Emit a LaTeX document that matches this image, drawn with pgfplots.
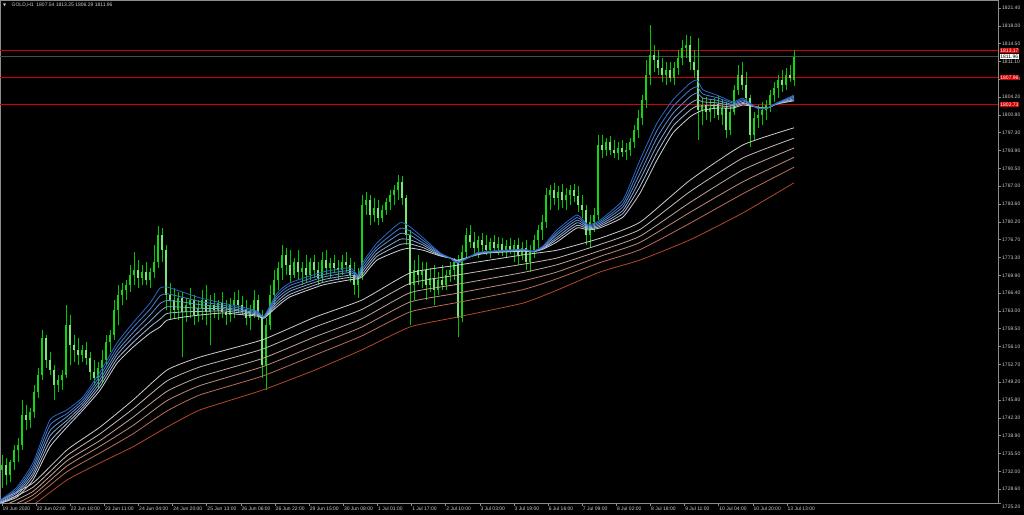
\documentclass[border=0pt]{standalone}
\usepackage{pgfplots}
\pgfplotsset{compat=1.18}
\usepackage{pgfplotstable}
\usetikzlibrary{backgrounds}
\usepackage{fontspec}
\setmainfont{Liberation Sans}
\newfontfamily\dejavu{DejaVu Sans}
\definecolor{labc}{RGB}{205,205,205}
\definecolor{axc}{RGB}{140,140,140}
\definecolor{wickc}{RGB}{0,200,0}
\definecolor{bullc}{RGB}{20,215,20}
\definecolor{bearc}{RGB}{120,230,120}
\definecolor{s1}{RGB}{40,105,200}
\definecolor{s2}{RGB}{70,125,205}
\definecolor{s3}{RGB}{100,145,210}
\definecolor{s4}{RGB}{135,165,212}
\definecolor{s5}{RGB}{170,185,215}
\definecolor{s6}{RGB}{205,208,215}
\definecolor{l1}{RGB}{205,205,205}
\definecolor{l2}{RGB}{200,185,180}
\definecolor{l3}{RGB}{195,165,155}
\definecolor{l4}{RGB}{190,140,120}
\definecolor{l5}{RGB}{185,110,85}
\definecolor{l6}{RGB}{180,72,40}
\definecolor{lvl}{RGB}{210,0,0}

\pgfplotstableread{
x o h l c
2 1732.3 1735.2 1728.9 1733.3
6 1733.3 1734.6 1729.4 1731.4
10 1731.4 1734.3 1730.0 1733.9
14 1733.9 1737.1 1732.3 1736.2
18 1736.2 1738.5 1733.9 1737.1
22 1737.1 1745.8 1736.2 1742.9
26 1742.9 1744.9 1740.0 1742.0
30 1742.0 1744.3 1740.4 1743.5
34 1743.5 1748.7 1742.4 1747.4
38 1747.4 1752.0 1746.2 1750.6
42 1750.6 1759.3 1749.7 1757.8
46 1757.8 1758.4 1752.0 1753.5
50 1753.5 1755.1 1750.6 1751.6
54 1751.6 1752.6 1745.8 1748.7
58 1748.7 1750.6 1747.4 1749.7
62 1749.7 1751.6 1747.7 1750.6
66 1750.6 1764.1 1750.1 1760.3
70 1760.3 1762.2 1752.6 1756.4
74 1756.4 1758.4 1753.2 1755.5
78 1755.5 1757.8 1752.6 1754.5
82 1754.5 1756.4 1753.2 1755.5
86 1755.5 1757.0 1752.6 1753.9
90 1753.9 1755.1 1749.7 1751.2
94 1751.2 1753.5 1748.7 1750.1
98 1750.1 1753.2 1748.1 1752.0
102 1752.0 1755.5 1749.3 1753.5
106 1753.5 1758.4 1752.6 1757.0
110 1757.0 1759.3 1755.1 1758.4
114 1758.4 1765.1 1757.4 1763.2
118 1763.2 1768.0 1760.3 1766.1
122 1766.1 1768.4 1764.1 1767.0
126 1767.0 1769.0 1765.1 1768.0
130 1768.0 1771.8 1766.6 1769.9
134 1769.9 1774.4 1768.0 1770.9
138 1770.9 1772.8 1767.4 1769.4
142 1769.4 1771.8 1768.0 1770.5
146 1770.5 1772.4 1768.0 1769.0
150 1769.0 1771.3 1767.4 1770.5
154 1770.5 1775.7 1769.4 1772.4
158 1772.4 1779.4 1771.3 1777.6
162 1777.6 1779.0 1772.4 1774.7
166 1774.7 1775.7 1763.2 1766.1
170 1766.1 1768.4 1761.2 1765.1
174 1765.1 1767.4 1761.6 1763.2
178 1763.2 1766.6 1761.2 1765.5
182 1765.5 1766.6 1754.1 1762.8
186 1762.8 1765.5 1760.9 1764.1
190 1764.1 1767.4 1761.6 1765.1
194 1765.1 1766.1 1760.3 1762.2
198 1762.2 1765.1 1760.9 1763.6
202 1763.6 1767.0 1761.2 1765.1
206 1765.1 1768.0 1760.3 1762.8
210 1762.8 1766.1 1756.4 1764.1
214 1764.1 1766.4 1761.6 1763.2
218 1763.2 1765.1 1761.2 1764.5
222 1764.5 1766.6 1761.6 1762.8
226 1762.8 1765.1 1760.3 1762.2
230 1762.2 1765.5 1760.9 1764.1
234 1764.1 1766.6 1761.6 1765.1
238 1765.1 1767.0 1762.8 1764.1
242 1764.1 1765.9 1762.2 1763.2
246 1763.2 1765.1 1760.3 1761.6
250 1761.6 1764.1 1759.3 1762.8
254 1762.8 1767.0 1761.6 1765.1
258 1765.1 1766.1 1761.2 1762.8
262 1762.2 1763.2 1750.1 1752.6
266 1752.6 1761.6 1747.7 1760.3
270 1760.3 1768.0 1759.3 1766.1
274 1766.1 1770.9 1764.1 1769.0
278 1769.0 1772.4 1767.0 1771.3
282 1771.3 1775.7 1769.0 1773.8
286 1773.8 1775.1 1769.9 1771.8
290 1771.8 1774.7 1768.6 1769.9
294 1769.9 1773.2 1769.4 1772.4
298 1772.4 1774.7 1769.0 1770.5
302 1770.5 1772.4 1768.0 1771.3
306 1771.3 1773.8 1768.6 1769.9
310 1769.9 1773.2 1769.0 1772.4
314 1772.4 1773.8 1769.4 1770.9
318 1770.9 1772.4 1768.0 1769.4
322 1769.4 1774.4 1768.6 1772.8
326 1772.8 1774.7 1769.9 1771.3
330 1771.3 1773.2 1769.4 1772.2
334 1772.2 1773.8 1770.5 1771.3
338 1771.3 1772.8 1769.0 1770.9
342 1770.9 1773.8 1769.9 1772.4
346 1772.4 1774.4 1770.5 1771.8
350 1771.8 1773.2 1768.6 1769.9
354 1769.9 1772.4 1766.1 1768.0
358 1768.0 1771.3 1765.5 1769.9
362 1769.9 1785.3 1769.0 1783.4
366 1783.4 1785.9 1781.5 1784.4
370 1784.4 1785.3 1779.6 1781.5
374 1781.5 1784.8 1780.1 1782.8
378 1782.8 1784.4 1779.6 1780.9
382 1780.9 1783.4 1780.1 1782.5
386 1782.5 1784.8 1781.5 1784.0
390 1784.0 1786.3 1782.5 1785.3
394 1785.3 1787.3 1783.4 1786.3
398 1786.3 1789.2 1784.4 1787.8
402 1787.8 1789.0 1783.4 1784.8
406 1784.8 1785.3 1775.7 1777.6
410 1777.6 1778.6 1760.3 1768.0
414 1768.0 1772.8 1765.1 1770.9
418 1770.9 1773.8 1768.0 1769.9
422 1769.9 1772.4 1767.4 1770.9
426 1770.9 1772.4 1765.1 1768.0
430 1768.0 1771.3 1766.6 1769.4
434 1769.4 1771.8 1764.1 1767.0
438 1767.0 1770.5 1766.1 1769.0
442 1769.0 1771.8 1767.0 1768.0
446 1768.0 1770.9 1767.0 1769.9
450 1769.9 1772.4 1768.6 1770.9
454 1770.9 1773.2 1769.0 1772.4
458 1772.4 1773.8 1758.0 1761.6
462 1761.6 1775.7 1760.9 1774.4
466 1774.4 1779.0 1773.2 1777.6
470 1777.6 1779.6 1775.1 1776.3
474 1776.3 1778.2 1773.8 1775.1
478 1775.1 1777.4 1773.2 1776.7
482 1776.7 1778.0 1774.4 1775.7
486 1775.7 1777.6 1773.8 1774.7
490 1774.7 1777.0 1773.2 1776.3
494 1776.3 1777.6 1774.4 1775.1
498 1775.1 1777.2 1773.8 1775.9
502 1775.9 1777.0 1773.6 1774.7
506 1774.7 1776.7 1773.2 1775.5
510 1775.5 1777.0 1774.0 1774.7
514 1774.7 1776.7 1772.4 1775.7
518 1775.7 1777.0 1771.8 1773.8
522 1773.8 1776.3 1772.8 1775.1
526 1775.1 1776.7 1770.9 1772.4
530 1772.4 1775.7 1770.5 1774.7
534 1774.7 1777.6 1773.2 1776.7
538 1776.7 1779.6 1775.1 1778.6
542 1778.6 1781.5 1776.7 1780.1
546 1780.1 1786.7 1779.0 1785.3
550 1785.3 1787.3 1782.5 1786.3
554 1786.3 1787.7 1783.4 1784.8
558 1784.8 1787.1 1782.5 1785.9
562 1785.9 1787.5 1782.8 1784.4
566 1784.4 1786.7 1782.5 1785.3
570 1785.3 1787.3 1783.4 1786.3
574 1786.3 1787.5 1784.0 1785.2
578 1785.2 1787.1 1782.1 1783.4
582 1783.4 1785.3 1780.9 1782.5
586 1782.5 1783.4 1775.7 1777.6
590 1777.6 1781.5 1775.1 1780.1
594 1780.1 1782.8 1778.2 1781.5
598 1781.5 1796.9 1780.5 1795.0
602 1795.0 1796.9 1792.5 1794.0
606 1794.0 1796.3 1792.9 1795.6
610 1795.6 1796.7 1793.1 1794.0
614 1794.0 1796.0 1792.5 1793.4
618 1793.4 1795.6 1792.1 1794.4
622 1794.4 1796.0 1792.7 1793.6
626 1793.6 1795.4 1792.1 1794.0
630 1794.0 1796.3 1792.9 1795.6
634 1795.6 1798.8 1794.4 1797.9
638 1797.9 1801.7 1796.3 1800.2
642 1800.2 1804.6 1798.8 1803.7
646 1803.7 1811.4 1802.1 1808.5
650 1808.5 1818.1 1806.6 1812.3
654 1812.3 1814.3 1809.1 1811.4
658 1811.4 1813.3 1808.5 1809.8
662 1809.8 1811.8 1807.1 1808.5
666 1808.5 1811.0 1806.6 1809.4
670 1809.4 1811.0 1807.1 1807.9
674 1807.9 1811.0 1806.6 1809.8
678 1809.8 1813.3 1808.5 1811.8
682 1811.8 1815.2 1810.4 1813.7
686 1813.7 1816.2 1811.8 1814.3
690 1814.3 1816.0 1809.4 1811.0
694 1811.0 1813.3 1807.9 1809.4
698 1809.4 1815.6 1795.9 1801.7
702 1801.7 1804.0 1798.8 1802.7
706 1802.7 1804.2 1799.8 1801.3
710 1801.3 1803.7 1799.4 1802.1
714 1802.1 1804.0 1800.2 1802.9
718 1802.9 1804.4 1799.8 1800.8
722 1800.8 1803.7 1798.8 1802.1
726 1802.1 1803.3 1796.3 1797.9
730 1797.9 1802.7 1796.9 1801.3
734 1801.3 1806.6 1800.8 1805.6
738 1805.6 1810.4 1804.6 1808.5
742 1808.5 1811.0 1805.6 1806.6
746 1806.6 1809.1 1802.7 1804.1
750 1804.1 1804.6 1794.6 1796.9
754 1796.9 1801.3 1795.9 1800.2
758 1800.2 1802.7 1798.3 1800.8
762 1800.8 1803.3 1798.8 1801.7
766 1801.7 1803.7 1799.8 1802.7
770 1802.7 1805.6 1801.3 1804.6
774 1804.6 1807.1 1803.3 1806.0
778 1806.0 1808.5 1804.0 1807.5
782 1807.5 1809.4 1805.2 1806.6
786 1806.6 1809.8 1805.6 1808.5
790 1808.5 1810.4 1807.1 1807.9
794 1807.54 1813.25 1806.29 1811.96
}\candles

\pgfplotstableread{
x s1 s2 s3 s4 s5 s6
0 1726.5 1726.4 1726.3 1726.1 1726.0 1725.9
17 1729.0 1728.6 1728.2 1727.9 1727.5 1727.1
33 1733.7 1733.0 1732.4 1731.7 1731.1 1730.4
50 1742.0 1741.0 1739.9 1738.9 1737.8 1736.8
67 1743.9 1743.2 1742.6 1741.9 1741.3 1740.6
83 1746.4 1745.9 1745.4 1744.9 1744.4 1743.9
100 1751.2 1750.5 1749.8 1749.1 1748.4 1747.7
117 1756.8 1756.0 1755.2 1754.5 1753.7 1752.9
133 1760.7 1759.8 1758.8 1757.9 1756.9 1756.0
150 1764.5 1763.3 1762.2 1761.0 1759.9 1758.7
160 1767.4 1765.9 1764.4 1762.9 1761.4 1759.9
167 1767.6 1766.3 1765.0 1763.8 1762.5 1761.2
183 1766.6 1765.6 1764.7 1763.7 1762.8 1761.8
200 1765.5 1764.8 1764.2 1763.5 1762.9 1762.2
223 1764.5 1764.1 1763.7 1763.4 1763.0 1762.6
245 1763.6 1763.3 1763.0 1762.8 1762.5 1762.2
257 1763.0 1762.8 1762.6 1762.4 1762.2 1762.0
264 1762.0 1761.9 1761.8 1761.8 1761.7 1761.6
277 1766.4 1765.9 1765.4 1764.8 1764.3 1763.8
290 1768.4 1767.9 1767.3 1766.8 1766.2 1765.7
323 1770.5 1770.0 1769.5 1769.0 1768.5 1768.0
350 1771.3 1770.8 1770.4 1769.9 1769.5 1769.0
358 1769.9 1769.8 1769.6 1769.5 1769.3 1769.2
363 1772.4 1771.9 1771.3 1770.8 1770.2 1769.7
377 1776.1 1775.4 1774.8 1774.1 1773.5 1772.8
400 1780.0 1778.9 1777.9 1776.8 1775.8 1774.7
410 1779.2 1778.4 1777.6 1776.7 1775.9 1775.1
423 1777.1 1776.6 1776.1 1775.7 1775.2 1774.7
440 1774.2 1774.1 1774.0 1773.8 1773.7 1773.6
450 1773.2 1773.2 1773.2 1773.2 1773.2 1773.2
458 1772.2 1772.3 1772.4 1772.6 1772.7 1772.8
477 1774.2 1774.1 1774.0 1774.0 1773.9 1773.8
490 1774.5 1774.4 1774.4 1774.3 1774.3 1774.2
523 1774.9 1774.8 1774.7 1774.7 1774.6 1774.5
533 1774.5 1774.5 1774.5 1774.4 1774.4 1774.4
543 1775.5 1775.4 1775.3 1775.1 1775.0 1774.9
557 1778.6 1778.1 1777.7 1777.2 1776.8 1776.3
577 1781.5 1781.0 1780.5 1780.0 1779.5 1779.0
588 1779.6 1779.4 1779.2 1779.0 1778.8 1778.6
600 1780.5 1780.2 1779.9 1779.6 1779.3 1779.0
623 1784.4 1783.7 1783.1 1782.4 1781.8 1781.1
640 1792.1 1790.8 1789.5 1788.3 1787.0 1785.7
657 1799.2 1797.8 1796.4 1794.9 1793.5 1792.1
673 1803.7 1802.4 1801.1 1799.9 1798.6 1797.3
690 1806.9 1805.6 1804.3 1803.0 1801.7 1800.4
697 1807.5 1806.2 1805.0 1803.7 1802.5 1801.2
703 1805.6 1804.8 1804.0 1803.3 1802.5 1801.7
717 1804.6 1804.1 1803.6 1803.1 1802.6 1802.1
733 1803.3 1803.1 1802.8 1802.6 1802.3 1802.1
743 1804.0 1803.7 1803.5 1803.2 1803.0 1802.7
757 1802.1 1802.1 1802.2 1802.2 1802.3 1802.3
767 1802.1 1802.1 1802.1 1802.1 1802.1 1802.1
777 1803.1 1803.1 1803.0 1803.0 1802.9 1802.9
794 1804.6 1804.4 1804.2 1803.9 1803.7 1803.5
}\shortma

\pgfplotstableread{
x l1 l2 l3 l4 l5 l6
0 1726.5 1725.8 1725.1 1724.4 1723.8 1722.7
33 1729.8 1729.0 1728.2 1727.5 1726.8 1725.6
67 1736.2 1735.1 1734.1 1733.1 1732.0 1730.4
100 1740.6 1739.3 1738.0 1736.9 1735.6 1733.7
133 1745.8 1744.1 1742.5 1740.9 1739.3 1736.8
167 1751.6 1749.5 1747.5 1745.7 1743.7 1740.6
200 1754.1 1752.2 1750.3 1748.6 1746.8 1743.9
262 1757.4 1755.6 1753.8 1752.2 1750.4 1747.7
315 1761.8 1759.9 1758.0 1756.3 1754.5 1751.6
362 1765.1 1763.3 1761.5 1759.9 1758.2 1755.5
410 1770.3 1768.3 1766.5 1764.7 1762.8 1759.9
457 1771.8 1769.9 1768.1 1766.4 1764.6 1761.8
523 1773.8 1772.0 1770.4 1768.8 1767.1 1764.5
557 1774.7 1773.2 1771.9 1770.5 1769.2 1767.0
600 1777.0 1775.8 1774.6 1773.5 1772.3 1770.5
640 1780.1 1778.7 1777.4 1776.2 1774.8 1772.8
690 1788.2 1786.0 1783.9 1782.0 1779.9 1776.7
743 1795.0 1792.5 1790.2 1787.9 1785.6 1781.9
794 1798.3 1796.3 1794.4 1792.6 1790.7 1787.7
}\longma

\begin{document}
\begin{tikzpicture}
\begin{axis}[
  name=ax,
  scale only axis, width=998pt, height=503pt,
  xmin=0, xmax=998, ymin=1725.96, ymax=1822.94,
  clip mode=individual,
  axis line style={draw=axc, line width=0.8pt},
  tick style={draw=axc, line width=0.6pt},
  tick align=outside, major tick length=3pt,
  xtick pos=bottom, ytick pos=right,
  /pgf/number format/assume math mode=true,
  ticklabel style={font=\fontsize{5}{6}\selectfont, text=labc},
  xtick={2,36.13,70.26,104.39,138.52,172.65,206.78,240.91,275.04,309.17,343.3,377.43,411.56,445.69,479.82,513.95,548.08,582.21,616.34,650.47,684.6,718.73,752.86,786.99},
  xticklabels={19 Jun 2020,22 Jun 02:00,22 Jun 18:00,23 Jun 11:00,24 Jun 04:00,24 Jun 20:00,25 Jun 13:00,26 Jun 06:00,26 Jun 22:00,29 Jun 15:00,30 Jun 08:00,1 Jul 01:00,1 Jul 17:00,2 Jul 10:00,3 Jul 03:00,3 Jul 19:00,6 Jul 16:00,7 Jul 09:00,8 Jul 02:00,8 Jul 18:00,9 Jul 11:00,10 Jul 04:00,10 Jul 20:00,13 Jul 13:00},
  xticklabel style={anchor=north west, inner sep=0pt, xshift=0.5pt, yshift=-0.5pt},
  ytick={1728.636,1732.071,1735.507,1738.943,1742.379,1745.814,1749.250,1752.686,1756.121,1759.557,1762.993,1766.429,1769.864,1773.300,1776.736,1780.171,1783.607,1787.043,1790.479,1793.914,1797.350,1800.786,1804.221,1807.657,1811.093,1814.529,1817.964,1821.400},
  yticklabels={1728.60,1732.00,1735.50,1738.90,1742.30,1745.80,1749.20,1752.70,1756.10,1759.50,1763.00,1766.40,1769.90,1773.30,1776.70,1780.20,1783.60,1787.00,1790.50,1793.90,1797.30,1800.80,1804.20,1807.60,1811.10,1814.50,1818.00,1821.40},
  yticklabel style={anchor=west, inner sep=0pt, xshift=1pt},
  unbounded coords=discard,
]
% level lines
\addplot[draw={rgb,255:red,75;green,75;blue,75}, line width=1pt] coordinates {(0,1811.96) (998,1811.96)};
\addplot[draw=lvl, line width=0.9pt] coordinates {(0,1813.17) (998,1813.17)};
\addplot[draw=lvl, line width=0.9pt] coordinates {(0,1807.96) (998,1807.96)};
\addplot[draw=lvl, line width=0.9pt] coordinates {(0,1802.73) (998,1802.73)};
% wicks
\addplot[draw=none, mark=none, error bars/.cd, y dir=plus, y explicit, error mark=none,
  error bar style={draw=wickc, line width=0.9pt, solid}]
  table[x=x, y=l, y error plus expr={\thisrow{h}-\thisrow{l}}] {\candles};
% bull bodies
\addplot[draw=none, mark=none, error bars/.cd, y dir=plus, y explicit, error mark=none,
  error bar style={draw=bullc, line width=2.8pt, solid}]
  table[x=x, y expr={\thisrow{c}>=\thisrow{o} ? \thisrow{o} : nan}, y error plus expr={\thisrow{c}-\thisrow{o}}] {\candles};
% bear bodies
\addplot[draw=none, mark=none, error bars/.cd, y dir=plus, y explicit, error mark=none,
  error bar style={draw=bearc, line width=2.8pt, solid}]
  table[x=x, y expr={\thisrow{c}<\thisrow{o} ? \thisrow{c} : nan}, y error plus expr={\thisrow{o}-\thisrow{c}}] {\candles};
% long MAs
\addplot[draw=l6, line width=0.8pt, smooth, tension=0.3] table[x=x, y=l6] {\longma};
\addplot[draw=l5, line width=0.8pt, smooth, tension=0.3] table[x=x, y=l5] {\longma};
\addplot[draw=l4, line width=0.8pt, smooth, tension=0.3] table[x=x, y=l4] {\longma};
\addplot[draw=l3, line width=0.8pt, smooth, tension=0.3] table[x=x, y=l3] {\longma};
\addplot[draw=l2, line width=0.8pt, smooth, tension=0.3] table[x=x, y=l2] {\longma};
\addplot[draw=l1, line width=0.8pt, smooth, tension=0.3] table[x=x, y=l1] {\longma};
% short MAs
\addplot[draw=s6, line width=0.8pt, smooth, tension=0.3] table[x=x, y=s6] {\shortma};
\addplot[draw=s5, line width=0.8pt, smooth, tension=0.3] table[x=x, y=s5] {\shortma};
\addplot[draw=s4, line width=0.8pt, smooth, tension=0.3] table[x=x, y=s4] {\shortma};
\addplot[draw=s3, line width=0.8pt, smooth, tension=0.3] table[x=x, y=s3] {\shortma};
\addplot[draw=s2, line width=0.8pt, smooth, tension=0.3] table[x=x, y=s2] {\shortma};
\addplot[draw=s1, line width=0.8pt, smooth, tension=0.3] table[x=x, y=s1] {\shortma};
% price tags
\node[anchor=west, fill=lvl, text=white, inner sep=0.7pt, font=\fontsize{5}{6}\selectfont] at (axis cs:999.5,1813.17) {1813.17};
\node[anchor=west, fill=white, text=black, inner sep=0.7pt, font=\fontsize{5}{6}\selectfont] at (axis cs:999.5,1811.96) {1811.96};
\node[anchor=west, fill=lvl, text=white, inner sep=0.7pt, font=\fontsize{5}{6}\selectfont] at (axis cs:999.5,1807.96) {1807.96};
\node[anchor=west, fill=lvl, text=white, inner sep=0.7pt, font=\fontsize{5}{6}\selectfont] at (axis cs:999.5,1802.73) {1802.73};
\end{axis}
\node[anchor=west, text=labc, inner sep=0pt, font=\fontsize{5}{6}\selectfont] at ([xshift=4pt,yshift=-3.5pt]ax.south east) {1725.20};
\draw[axc, line width=0.6pt] (ax.south east) -- ++(3pt,0);
\node[anchor=west, text=labc, inner sep=0pt, font=\fontsize{4}{5}\selectfont\dejavu] at ([xshift=3pt,yshift=-5pt]ax.north west) {▼};
\node[anchor=west, text=labc, inner sep=0pt, font=\fontsize{5}{6}\selectfont] at ([xshift=11.5pt,yshift=-5pt]ax.north west) {GOLD,H1\ \ 1807.54 1813.25 1806.29 1811.96};
\pgfresetboundingbox
\path[use as bounding box] ([yshift=-12pt]ax.south west) rectangle ([xshift=26pt]ax.north east);
\begin{scope}[on background layer]
\fill[black] ([yshift=-12pt]ax.south west) rectangle ([xshift=26pt]ax.north east);
\end{scope}
\end{tikzpicture}
\end{document}
